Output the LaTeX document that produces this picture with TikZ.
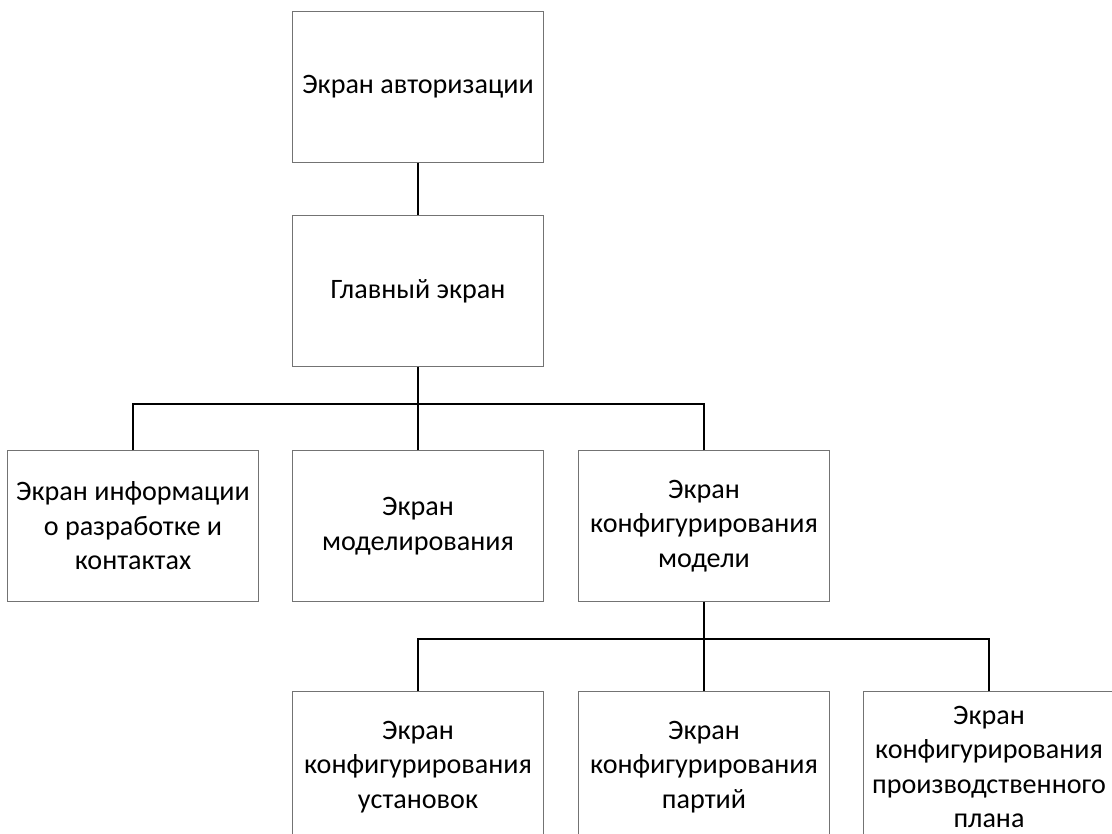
\documentclass[tikz,border=0pt]{standalone}
\usepackage{fontspec}
\setmainfont{Carlito}
\begin{document}
\begin{tikzpicture}[x=0.025cm,y=-0.025cm,
    screen/.style={draw=black!55,line width=0.7pt,minimum width=6.25cm,minimum height=3.75cm,
      align=center,inner sep=0pt,font=\fontsize{20}{24.6}\selectfont},
    link/.style={line width=2pt}]
    \clip (0,0) rectangle (1112,834);
    \node[screen] (auth) at (418,87) {Экран авторизации};
    \node[screen] (main) at (418,291) {Главный экран};
    \node[screen] (info) at (133,526) {Экран информации\\о разработке и\\контактах};
    \node[screen] (model) at (418,526) {Экран\\моделирования};
    \node[screen] (conf) at (704,526) {Экран\\конфигурирования\\модели};
    \node[screen] (inst) at (418,767) {Экран\\конфигурирования\\установок};
    \node[screen] (part) at (704,767) {Экран\\конфигурирования\\партий};
    \node[screen] (plan) at (989,767) {Экран\\конфигурирования\\производственного\\плана};
    \coordinate (bus1) at (418,404);
    \coordinate (bus2) at (704,639);
    \draw[link] (auth) -- (main);
    \draw[link] (main) -- (bus1);
    \draw[link] (info.north) |- (bus1);
    \draw[link] (conf.north) |- (bus1);
    \draw[link] (model) -- (bus1);
    \draw[link] (conf) -- (bus2);
    \draw[link] (inst.north) |- (bus2);
    \draw[link] (plan.north) |- (bus2);
    \draw[link] (part) -- (bus2);
  \end{tikzpicture}
\end{document}
